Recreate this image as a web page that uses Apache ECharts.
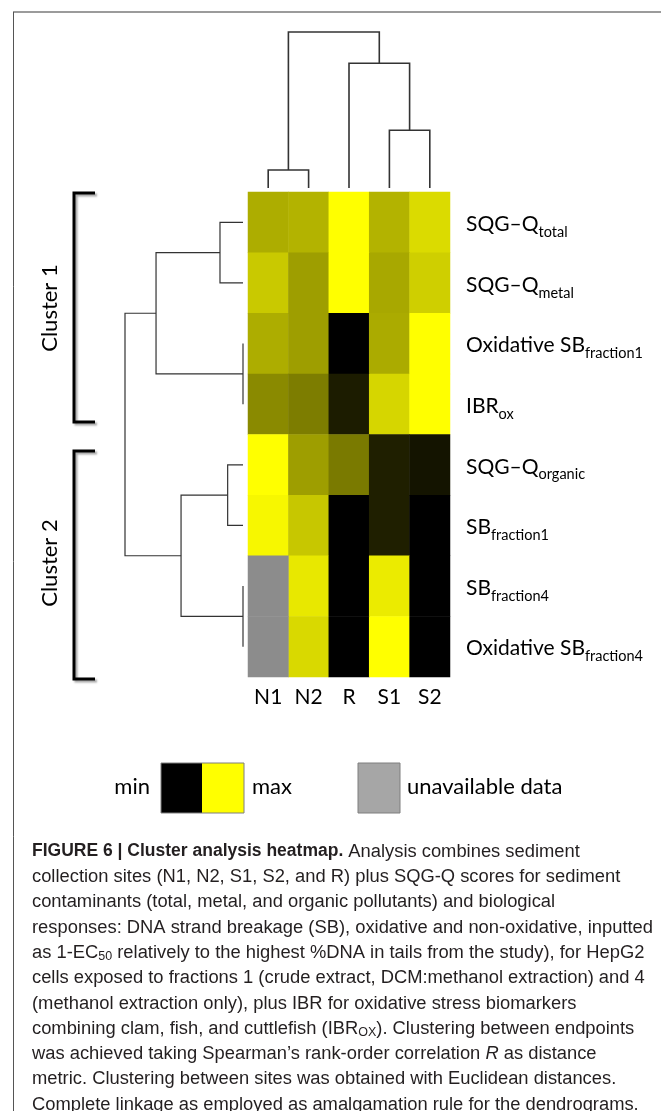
<!DOCTYPE html>
<html>
<head>
<meta charset="utf-8">
<script src="https://cdn.jsdelivr.net/npm/echarts@6/dist/echarts.min.js"></script>
<style>
html,body{margin:0;padding:0;background:#fff;}
#chart{width:661px;height:1111px;}
</style>
</head>
<body>
<div id="chart"></div>
<script>
// ---------- data ----------
var sites = ['N1', 'N2', 'R', 'S1', 'S2'];
var endpointMain = ['SQG–Q', 'SQG–Q', 'Oxidative SB', 'IBR', 'SQG–Q', 'SB', 'SB', 'Oxidative SB'];
var endpointSub = ['total', 'metal', 'fraction1', 'ox', 'organic', 'fraction1', 'fraction4', 'fraction4'];
// scaled values (0 = min, 1 = max), null = unavailable; one array per endpoint, ordered by sites
var sqgTotal   = [0.68, 0.70, 1.00, 0.70, 0.86];
var sqgMetal   = [0.79, 0.62, 1.00, 0.66, 0.81];
var oxSbF1     = [0.68, 0.62, 0.00, 0.67, 1.00];
var ibrOx      = [0.54, 0.49, 0.11, 0.84, 1.00];
var sqgOrganic = [1.00, 0.62, 0.48, 0.12, 0.08];
var sbF1       = [0.97, 0.78, 0.00, 0.12, 0.00];
var sbF4       = [null, 0.91, 0.00, 0.92, 0.00];
var oxSbF4     = [null, 0.85, 0.00, 1.00, 0.00];
var valueRows = [sqgTotal, sqgMetal, oxSbF1, ibrOx, sqgOrganic, sbF1, sbF4, oxSbF4];
// dendrogram linkages: [childA, childB, height]; new cluster ids follow leaf count
var siteLinkage = [[0, 1, 0.115], [3, 4, 0.37], [2, 6, 0.80], [5, 7, 1.0]];
var endpointLinkage = [[0, 1, 0.195], [2, 3, 0.0], [8, 9, 0.737], [4, 5, 0.13], [6, 7, 0.0], [11, 12, 0.525], [10, 13, 1.0]];
var clusters = ['Cluster 1', 'Cluster 2'];
var legendMin = 'min', legendMax = 'max', legendNA = 'unavailable data';
var colorMin = '#000000', colorMax = '#ffff00', colorNA = '#8c8c8c', colorNALegend = '#a6a6a6';

// ---------- build ----------
var endpoints = endpointMain.map(function (m, i) { return m + '_' + endpointSub[i]; });
var heatData = [], naData = [];
valueRows.forEach(function (row, r) {
  row.forEach(function (v, c) {
    if (v === null) naData.push([c, r, 1]); else heatData.push([c, r, v]);
  });
});
function linkSegments(linkage, nLeaves) {
  var pos = [], h = [];
  for (var i = 0; i < nLeaves; i++) { pos.push(i + 0.5); h.push(0); }
  var segs = [];
  linkage.forEach(function (l) {
    var a = l[0], b = l[1], ht = l[2];
    segs.push([pos[a], h[a], pos[b], h[b], ht]);
    pos.push((pos[a] + pos[b]) / 2); h.push(ht);
  });
  return segs;
}
var topSegs = linkSegments(siteLinkage, sites.length);
var leftSegs = linkSegments(endpointLinkage, endpoints.length);

var LF = 'Lato, "Open Sans", sans-serif';
var CF = '"Liberation Sans", Arial, sans-serif';
var capSize = 18.35, capLH = 25.3;
function cs(extra) {
  var o = { fontSize: capSize, fontFamily: CF, color: '#231f20', lineHeight: capLH };
  for (var k in extra) o[k] = extra[k];
  return o;
}
var captionLines = [
  '{b|FIGURE 6 | Cluster analysis heatmap.} Analysis combines sediment',
  'collection sites (N1, N2, S1, S2, and R) plus SQG-Q scores for sediment',
  'contaminants (total, metal, and organic pollutants) and biological',
  'responses: DNA strand breakage (SB), oxidative and non-oxidative, inputted',
  'as 1-EC{sub|50} relatively to the highest %DNA in tails from the study), for HepG2',
  'cells exposed to fractions 1 (crude extract, DCM:methanol extraction) and 4',
  '(methanol extraction only), plus IBR for oxidative stress biomarkers',
  'combining clam, fish, and cuttlefish (IBR{sub|OX}). Clustering between endpoints',
  'was achieved taking Spearman\u2019s rank-order correlation {i|R} as distance',
  'metric. Clustering between sites was obtained with Euclidean distances.',
  'Complete linkage as employed as amalgamation rule for the dendrograms.'
];

function dendroItem(horizontal) {
  return function (params, api) {
    var a = api.value(0), ha = api.value(1), b = api.value(2), hb = api.value(3), h = api.value(4);
    var pts;
    if (horizontal) {
      pts = [api.coord([a, ha]), api.coord([a, h]), api.coord([b, h]), api.coord([b, hb])];
    } else {
      pts = [api.coord([ha, a]), api.coord([h, a]), api.coord([h, b]), api.coord([hb, b])];
    }
    return { type: 'polyline', shape: { points: pts }, style: { stroke: '#333', lineWidth: horizontal ? 1.6 : 1.2, fill: null } };
  };
}

var chart = echarts.init(document.getElementById('chart'), null, { renderer: 'canvas' });
var option = {
  animation: false,
  backgroundColor: '#fff',
  grid: [
    { left: 248, top: 192, width: 202, height: 485 },
    { left: 248, top: 32, width: 202, height: 156 },
    { left: 125, top: 192, width: 118, height: 485 }
  ],
  xAxis: [
    { type: 'category', gridIndex: 0, data: sites, position: 'bottom',
      axisLine: { show: false }, axisTick: { show: false }, splitLine: { show: false },
      axisLabel: { fontSize: 21, fontFamily: LF, color: '#000', margin: 10 } },
    { type: 'value', gridIndex: 1, min: 0, max: sites.length, show: false },
    { type: 'value', gridIndex: 2, min: 0, max: 1, inverse: true, show: false }
  ],
  yAxis: [
    { type: 'category', gridIndex: 0, data: endpoints, inverse: true, position: 'right',
      axisLine: { show: false }, axisTick: { show: false }, splitLine: { show: false },
      axisLabel: { margin: 16, fontSize: 21, fontFamily: LF, color: '#000',
        formatter: function (v, i) { return '{m|' + endpointMain[i] + '}{sub|' + endpointSub[i] + '}'; },
        rich: {
          m: { fontSize: 21, fontFamily: LF, color: '#000', padding: [4, 0, 0, 0] },
          sub: { fontSize: 14.5, fontFamily: LF, color: '#000', padding: [20, 0, 0, 0] }
        } } },
    { type: 'value', gridIndex: 1, min: 0, max: 1, show: false },
    { type: 'value', gridIndex: 2, min: 0, max: endpoints.length, inverse: true, show: false }
  ],
  visualMap: {
    show: false, type: 'continuous', min: 0, max: 1, dimension: 2, seriesIndex: 0,
    inRange: { color: [colorMin, colorMax] }
  },
  series: [
    { type: 'heatmap', xAxisIndex: 0, yAxisIndex: 0, data: heatData, emphasis: { disabled: true } },
    { type: 'heatmap', xAxisIndex: 0, yAxisIndex: 0, data: naData, itemStyle: { color: colorNA }, emphasis: { disabled: true } },
    { type: 'custom', xAxisIndex: 1, yAxisIndex: 1, data: topSegs, renderItem: dendroItem(true), silent: true },
    { type: 'custom', xAxisIndex: 2, yAxisIndex: 2, data: leftSegs, renderItem: dendroItem(false), silent: true }
  ],
  graphic: [
    // frame
    { type: 'line', shape: { x1: 13, y1: 12, x2: 661, y2: 12 }, style: { stroke: '#7a7a7a', lineWidth: 1.6 } },
    { type: 'line', shape: { x1: 13.5, y1: 12, x2: 13.5, y2: 1111 }, style: { stroke: '#555', lineWidth: 1 } },
    // cluster brackets
    { type: 'polyline', shape: { points: [[95, 193], [74, 193], [74, 422], [95, 422]] },
      style: { stroke: '#000', lineWidth: 3, fill: null, shadowColor: 'rgba(0,0,0,0.35)', shadowBlur: 2, shadowOffsetX: 2, shadowOffsetY: 2 } },
    { type: 'polyline', shape: { points: [[95, 451], [74, 451], [74, 679], [95, 679]] },
      style: { stroke: '#000', lineWidth: 3, fill: null, shadowColor: 'rgba(0,0,0,0.35)', shadowBlur: 2, shadowOffsetX: 2, shadowOffsetY: 2 } },
    { type: 'text', x: 50, y: 308, rotation: Math.PI / 2,
      style: { text: clusters[0], fontSize: 22, fontFamily: LF, fill: '#000', align: 'center', verticalAlign: 'middle' } },
    { type: 'text', x: 50, y: 563, rotation: Math.PI / 2,
      style: { text: clusters[1], fontSize: 22, fontFamily: LF, fill: '#000', align: 'center', verticalAlign: 'middle' } },
    // legend
    { type: 'text', x: 150, y: 787, style: { text: legendMin, fontSize: 22, fontFamily: LF, fill: '#000', align: 'right', verticalAlign: 'middle' } },
    { type: 'rect', shape: { x: 161, y: 763, width: 41, height: 50 }, style: { fill: colorMin } },
    { type: 'rect', shape: { x: 202, y: 763, width: 42, height: 50 }, style: { fill: colorMax } },
    { type: 'rect', shape: { x: 161, y: 763, width: 83, height: 50 }, style: { fill: null, stroke: '#7f7f7f', lineWidth: 1 } },
    { type: 'text', x: 252, y: 787, style: { text: legendMax, fontSize: 22, fontFamily: LF, fill: '#000', align: 'left', verticalAlign: 'middle' } },
    { type: 'rect', shape: { x: 358, y: 763, width: 42, height: 50 }, style: { fill: colorNALegend, stroke: '#7f7f7f', lineWidth: 1 } },
    { type: 'text', x: 407, y: 787, style: { text: legendNA, fontSize: 22, fontFamily: LF, fill: '#000', align: 'left', verticalAlign: 'middle' } },
    // caption
    { type: 'text', x: 32, y: 839,
      style: { text: captionLines.join('\n'), fontSize: capSize, fontFamily: CF, fill: '#231f20', lineHeight: capLH,
        align: 'left', verticalAlign: 'top',
        rich: {
          b: cs({ fontWeight: 'bold', fontSize: 17.5 }),
          i: cs({ fontStyle: 'italic' }),
          sub: cs({ fontSize: 12.5, padding: [8, 0, 0, 0] })
        } } }
  ]
};
chart.setOption(option);
</script>
</body>
</html>
